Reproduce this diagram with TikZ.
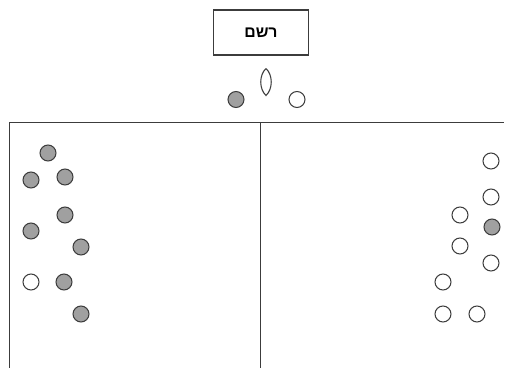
\documentclass[tikz,border=0pt]{standalone}
\usepackage{fontspec}
\usepackage{xcolor}
\usepackage{tikz}
\usetikzlibrary{positioning}
\newfontfamily\hebfont[Script=Hebrew]{Liberation Sans}
\TeXXeTstate=1
\definecolor{edgegray}{RGB}{60,60,60}
\definecolor{ballgray}{RGB}{160,160,160}
\tikzset{
  labelbox/.style={rectangle, draw=edgegray, fill=white,
    minimum width=1.9cm, minimum height=0.9cm, line width=0.6pt,
    font={\fontsize{9}{10}\hebfont\bfseries}},
  fullball/.style={circle, draw=edgegray, fill=ballgray,
    minimum size=0.32cm, inner sep=0pt, line width=0.6pt},
  emptyball/.style={circle, draw=edgegray, fill=white,
    minimum size=0.32cm, inner sep=0pt, line width=0.6pt},
  wall/.style={line width=0.6pt, color=edgegray}
}

\begin{document}
\begin{tikzpicture}[x=0.02cm, y=-0.02cm]
  \useasboundingbox (0,0) rectangle (505,368);
  % Label box
  \node[labelbox] (title) at (261,32.5) {\beginR רשם\endR};
  % Balls above the walls
  \node[fullball] (topfull) at (236,99.5) {};
  \node[emptyball] (topempty) at (297,99.5) {};
  \draw[edgegray, line width=0.6pt, fill=white] (266,68.5) .. controls (259,75) and (259,89) .. (266,95.5)
    .. controls (273,89) and (273,75) .. (266,68.5);
  % Walls
  \draw[wall] (9.5,368) -- (9.5,122.5) -- (504,122.5);
  \draw[wall] (260.5,122.5) -- (260.5,368);
  % Left side
  \foreach \n/\x/\y in {la/48/153, lb/31/180, lc/65/177, ld/65/215, le/31/231,
                        lf/81/247, lg/64/282, lh/81/314} {
    \node[fullball] (\n) at (\x,\y) {};
  }
  \node[emptyball] (li) at (31,282) {};
  % Right side
  \foreach \n/\x/\y in {ra/491/161, rb/491/197, rc/460/215, rd/460/246, re/491/263,
                        rf/443/282, rg/443/314, rh/477/314} {
    \node[emptyball] (\n) at (\x,\y) {};
  }
  \node[fullball] (ri) at (492,227) {};
\end{tikzpicture}
\end{document}
